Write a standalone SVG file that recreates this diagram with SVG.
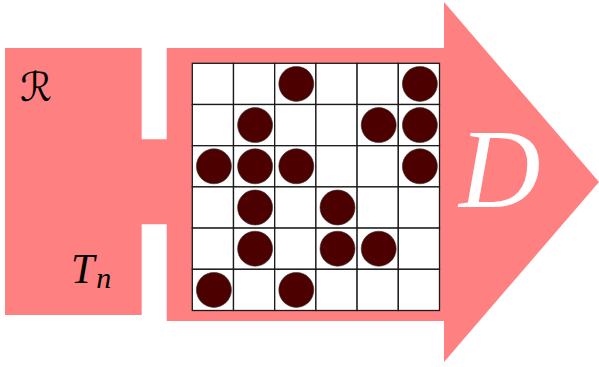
<svg xmlns="http://www.w3.org/2000/svg" width="599" height="367" viewBox="0 0 599 367">
<style>
.fill{fill:#ff8080;}
.cell{fill:#ffffff;stroke:#1a1a1a;stroke-width:1.3;}
.dot{fill:#4d0000;stroke:#333;stroke-width:0.6;}
.math{font-family:"Liberation Serif","DejaVu Serif",serif;font-style:italic;}
</style>
<g id="source">
<polygon class="fill" points="5,48 141.7,48 141.7,139.3 168,139.3 168,224.3 141.7,224.3 141.7,315 5,315"/>
<text x="20" y="101" font-family="DejaVu Sans, sans-serif" font-size="40">ℛ</text>
<text class="math" x="71" y="283" font-size="42">T<tspan font-size="30" dy="5" dx="2">n</tspan></text>
</g>
<g id="arrow">
<polygon class="fill" points="166.7,48 444,48 444,2 599,182 444,362 444,321 166.7,321"/>
<text class="math" x="459" y="207" font-size="113" fill="#ffffff">D</text>
</g>
<g id="grid">
<g id="cells">
<rect class="cell" x="192.3" y="63.3" width="41.2" height="41.2"/>
<rect class="cell" x="233.5" y="63.3" width="41.2" height="41.2"/>
<rect class="cell" x="274.7" y="63.3" width="41.2" height="41.2"/>
<rect class="cell" x="315.9" y="63.3" width="41.2" height="41.2"/>
<rect class="cell" x="357.1" y="63.3" width="41.2" height="41.2"/>
<rect class="cell" x="398.3" y="63.3" width="41.2" height="41.2"/>
<rect class="cell" x="192.3" y="104.5" width="41.2" height="41.2"/>
<rect class="cell" x="233.5" y="104.5" width="41.2" height="41.2"/>
<rect class="cell" x="274.7" y="104.5" width="41.2" height="41.2"/>
<rect class="cell" x="315.9" y="104.5" width="41.2" height="41.2"/>
<rect class="cell" x="357.1" y="104.5" width="41.2" height="41.2"/>
<rect class="cell" x="398.3" y="104.5" width="41.2" height="41.2"/>
<rect class="cell" x="192.3" y="145.7" width="41.2" height="41.2"/>
<rect class="cell" x="233.5" y="145.7" width="41.2" height="41.2"/>
<rect class="cell" x="274.7" y="145.7" width="41.2" height="41.2"/>
<rect class="cell" x="315.9" y="145.7" width="41.2" height="41.2"/>
<rect class="cell" x="357.1" y="145.7" width="41.2" height="41.2"/>
<rect class="cell" x="398.3" y="145.7" width="41.2" height="41.2"/>
<rect class="cell" x="192.3" y="186.9" width="41.2" height="41.2"/>
<rect class="cell" x="233.5" y="186.9" width="41.2" height="41.2"/>
<rect class="cell" x="274.7" y="186.9" width="41.2" height="41.2"/>
<rect class="cell" x="315.9" y="186.9" width="41.2" height="41.2"/>
<rect class="cell" x="357.1" y="186.9" width="41.2" height="41.2"/>
<rect class="cell" x="398.3" y="186.9" width="41.2" height="41.2"/>
<rect class="cell" x="192.3" y="228.1" width="41.2" height="41.2"/>
<rect class="cell" x="233.5" y="228.1" width="41.2" height="41.2"/>
<rect class="cell" x="274.7" y="228.1" width="41.2" height="41.2"/>
<rect class="cell" x="315.9" y="228.1" width="41.2" height="41.2"/>
<rect class="cell" x="357.1" y="228.1" width="41.2" height="41.2"/>
<rect class="cell" x="398.3" y="228.1" width="41.2" height="41.2"/>
<rect class="cell" x="192.3" y="269.3" width="41.2" height="41.2"/>
<rect class="cell" x="233.5" y="269.3" width="41.2" height="41.2"/>
<rect class="cell" x="274.7" y="269.3" width="41.2" height="41.2"/>
<rect class="cell" x="315.9" y="269.3" width="41.2" height="41.2"/>
<rect class="cell" x="357.1" y="269.3" width="41.2" height="41.2"/>
<rect class="cell" x="398.3" y="269.3" width="41.2" height="41.2"/>
</g>
<g id="dots">
<circle class="dot" cx="296.3" cy="83.9" r="17.5"/>
<circle class="dot" cx="419.9" cy="83.9" r="17.5"/>
<circle class="dot" cx="255.1" cy="125.1" r="17.5"/>
<circle class="dot" cx="378.7" cy="125.1" r="17.5"/>
<circle class="dot" cx="419.9" cy="125.1" r="17.5"/>
<circle class="dot" cx="213.9" cy="166.3" r="17.5"/>
<circle class="dot" cx="255.1" cy="166.3" r="17.5"/>
<circle class="dot" cx="296.3" cy="166.3" r="17.5"/>
<circle class="dot" cx="419.9" cy="166.3" r="17.5"/>
<circle class="dot" cx="255.1" cy="207.5" r="17.5"/>
<circle class="dot" cx="337.5" cy="207.5" r="17.5"/>
<circle class="dot" cx="255.1" cy="248.7" r="17.5"/>
<circle class="dot" cx="337.5" cy="248.7" r="17.5"/>
<circle class="dot" cx="378.7" cy="248.7" r="17.5"/>
<circle class="dot" cx="213.9" cy="289.9" r="17.5"/>
<circle class="dot" cx="296.3" cy="289.9" r="17.5"/>
</g>
</g>
</svg>
